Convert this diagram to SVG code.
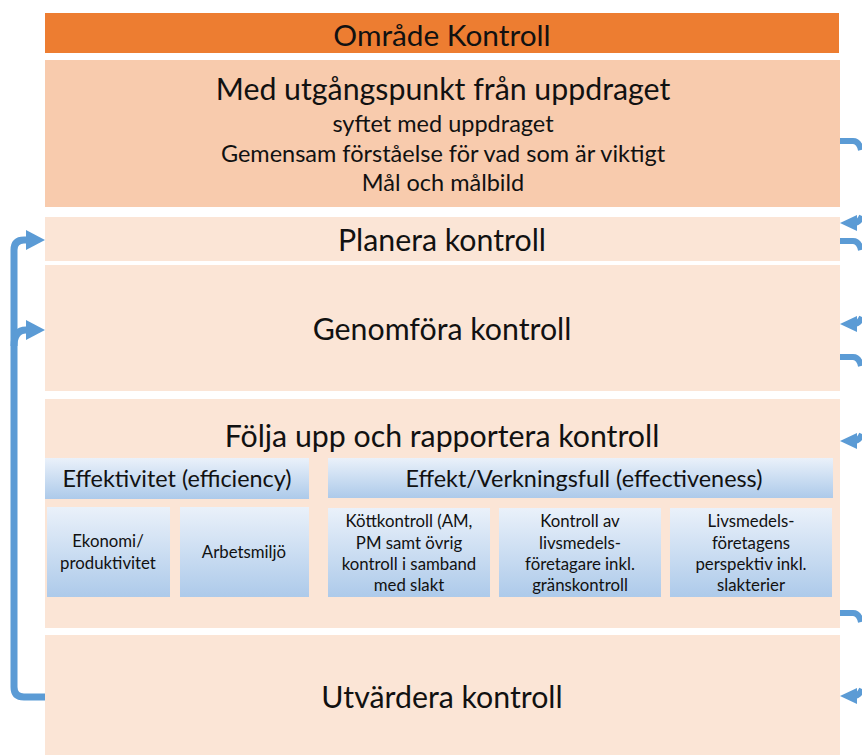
<svg xmlns="http://www.w3.org/2000/svg" width="862" height="755" viewBox="0 0 862 755">
<defs>
<style>
text{font-family:Lato,"Liberation Sans",sans-serif;fill:#111;text-anchor:middle}
.big{font-size:30.3px}
.mid{font-size:23.5px}
.hdr{font-size:23.4px}
.sm{font-size:16.8px}
.conn{fill:none;stroke:#5B9BD5;stroke-width:7}
.head{fill:#5B9BD5}
.blue{fill:url(#bg)}
</style>
<linearGradient id="bg" x1="0" y1="0" x2="0" y2="1">
<stop offset="0" stop-color="#EAF1FA"/>
<stop offset="1" stop-color="#ADCAEA"/>
</linearGradient>
</defs>
<rect width="862" height="755" fill="#fff"/>
<g id="omrade">
<rect x="45" y="13" width="794" height="40" fill="#ED7D31"/>
<text x="442" y="46" style="font-size:29.8px">Område Kontroll</text>
</g>
<g id="utgangspunkt">
<rect x="45" y="60" width="795" height="147" fill="#F8CBAD"/>
<text x="443" y="100" class="big">Med utgångspunkt från uppdraget</text>
<text x="443" y="132" class="mid">syftet med uppdraget</text>
<text x="443" y="162" class="mid">Gemensam förståelse för vad som är viktigt</text>
<text x="443" y="191" class="mid">Mål och målbild</text>
</g>
<g id="planera">
<rect x="45" y="217" width="795" height="44" fill="#FBE5D6"/>
<text x="442" y="251" class="big">Planera kontroll</text>
</g>
<g id="genomfora">
<rect x="45" y="265" width="795" height="126" fill="#FBE5D6"/>
<text x="442" y="340" class="big">Genomföra kontroll</text>
</g>
<g id="folja">
<rect x="45" y="399" width="795" height="229" fill="#FBE5D6"/>
<text x="442" y="447" class="big">Följa upp och rapportera kontroll</text>
</g>
<g id="effektivitet">
<rect x="45" y="458" width="264" height="41" class="blue"/>
<text x="177" y="487" class="hdr">Effektivitet (efficiency)</text>
</g>
<g id="ekonomi">
<rect x="47" y="507" width="123" height="90" class="blue"/>
<text x="108" y="547" class="sm">Ekonomi/</text>
<text x="108" y="569" class="sm">produktivitet</text>
</g>
<g id="arbetsmiljo">
<rect x="180" y="507" width="129" height="90" class="blue"/>
<text x="244" y="558" class="sm">Arbetsmiljö</text>
</g>
<g id="effekt">
<rect x="328" y="458" width="505" height="40" class="blue"/>
<text x="584" y="487" class="hdr">Effekt/Verkningsfull (effectiveness)</text>
</g>
<g id="kottkontroll">
<rect x="328" y="508" width="162" height="89" class="blue"/>
<text x="409" y="527" class="sm">Köttkontroll (AM,</text>
<text x="409" y="549" class="sm">PM samt övrig</text>
<text x="409" y="570" class="sm">kontroll i samband</text>
<text x="409" y="591" class="sm">med slakt</text>
</g>
<g id="livsmedelsforetagare">
<rect x="499" y="508" width="162" height="89" class="blue"/>
<text x="580" y="527" class="sm">Kontroll av</text>
<text x="580" y="549" class="sm">livsmedels-</text>
<text x="580" y="570" class="sm">företagare inkl.</text>
<text x="580" y="591" class="sm">gränskontroll</text>
</g>
<g id="perspektiv">
<rect x="670" y="508" width="162" height="89" class="blue"/>
<text x="751" y="527" class="sm">Livsmedels-</text>
<text x="751" y="549" class="sm">företagens</text>
<text x="751" y="570" class="sm">perspektiv inkl.</text>
<text x="751" y="591" class="sm">slakterier</text>
</g>
<g id="utvardera">
<rect x="45" y="635" width="795" height="120" fill="#FBE5D6"/>
<text x="442" y="708" class="big">Utvärdera kontroll</text>
</g>
<g id="connectors">
<path class="conn" d="M45,697 H24 Q14,697 14,687 V250 Q14,240 24,240 H28"/>
<path class="conn" d="M14,346 Q14,330 26,330 H28"/>
<polygon class="head" points="26,230 45,240 26,250"/>
<polygon class="head" points="26,320 45,330 26,340"/>
<path class="conn" style="stroke-width:6" d="M840,141 H853 Q859,141 861,150"/>
<path class="conn" style="stroke-width:6" d="M840,241 H853 Q859,241 861,250"/>
<path class="conn" style="stroke-width:6" d="M840,357 H853 Q859,357 861,366"/>
<path class="conn" style="stroke-width:6" d="M840,613 H853 Q859,613 861,622"/>
<path class="conn" style="stroke-width:6" d="M854,223 Q859,223 862,216"/>
<path class="conn" style="stroke-width:6" d="M854,324 Q859,324 862,317"/>
<path class="conn" style="stroke-width:6" d="M854,441 Q859,441 862,434"/>
<path class="conn" style="stroke-width:6" d="M854,696 Q859,696 862,689"/>
<polygon class="head" points="840,223 857,215 857,231"/>
<polygon class="head" points="840,324 857,316 857,332"/>
<polygon class="head" points="840,441 857,433 857,449"/>
<polygon class="head" points="840,696 857,688 857,704"/>
</g>
</svg>
